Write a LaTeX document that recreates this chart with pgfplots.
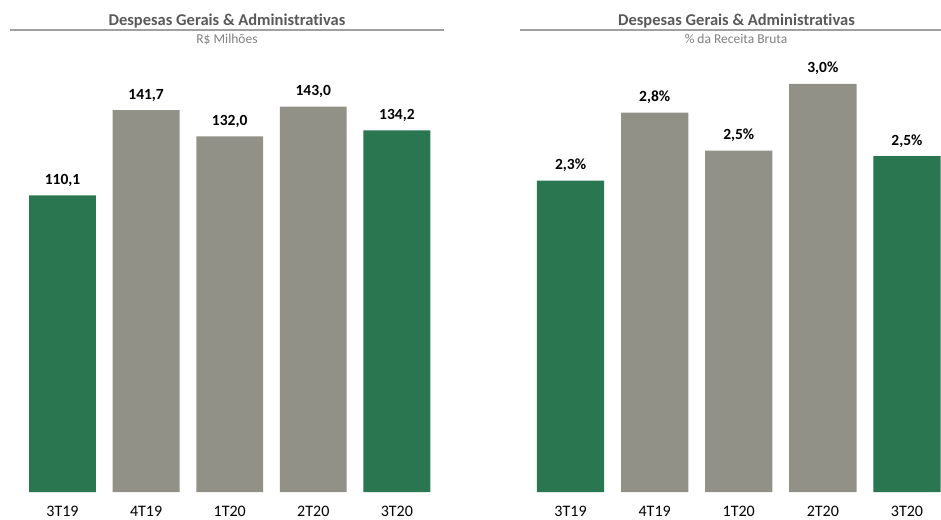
\documentclass[border=0pt]{standalone}
\usepackage{fontspec}
\setmainfont{Carlito}[Ligatures={NoCommon}]
\usepackage{pgfplots}
\pgfplotsset{compat=1.18}
\definecolor{verde}{HTML}{2A7650}
\definecolor{cinza}{HTML}{929188}
\definecolor{titulo}{HTML}{595959}
\definecolor{subt}{HTML}{808080}
\definecolor{linha}{HTML}{A0A0A0}

\pgfplotsset{
  painel/.style={
    ybar, bar shift=0pt, bar width=0.8,
    xmin=-0.5, xmax=4.5, ymin=0,
    axis line style={draw=none}, ytick=\empty, xtick={0,1,2,3,4},
    xticklabels={3T19,4T19,1T20,2T20,3T20},
    major tick length=0pt,
    xticklabel style={anchor=base, yshift=-24.5pt, text=black, font=\fontsize{16}{18}\selectfont},
    nodes near coords,
    every node near coord/.append style={anchor=base, yshift=11pt, inner sep=0pt, text=black, font=\bfseries\fontsize{15.5}{18}\selectfont},
    clip=false, anchor=south west,
    /pgf/number format/assume math mode=true,
    /pgf/number format/.cd, fixed, fixed zerofill, precision=1, use comma,
  }
}

\begin{document}
\begin{tikzpicture}
\useasboundingbox (0pt,0pt) rectangle (941pt,519pt);

% painel esquerdo: R$ milhoes
\begin{axis}[painel, at={(20.7pt,27pt)}, x=83.6pt, y=2.695pt, ymax=160]
  \addplot[fill=verde, draw=none] coordinates {(0,110.1) (4,134.2)};
  \addplot[fill=cinza, draw=none] coordinates {(1,141.7) (2,132.0) (3,143.0)};
\end{axis}
\node[anchor=base, text=titulo, font=\bfseries\fontsize{16.5}{18}\selectfont] at (227pt,493.5pt) {Despesas Gerais \& Administrativas};
\draw[linha, line width=1.5pt] (10pt,489pt) -- (444pt,489pt);
\node[anchor=base, text=subt, font=\fontsize{13.5}{15}\selectfont] at (227pt,475.5pt) {R\$ Milhões};

% painel direito: % da receita bruta
\begin{axis}[painel, at={(528.5pt,27pt)}, x=84.1pt, y=136pt, ymax=3.3,
  nodes near coords={\pgfmathprintnumber{\pgfplotspointmeta}\%}]
  \addplot[fill=verde, draw=none] coordinates {(0,2.29) (4,2.47)};
  \addplot[fill=cinza, draw=none] coordinates {(1,2.79) (2,2.51) (3,3.00)};
\end{axis}
\node[anchor=base, text=titulo, font=\bfseries\fontsize{16.5}{18}\selectfont] at (736.5pt,493.5pt) {Despesas Gerais \& Administrativas};
\draw[linha, line width=1.5pt] (520pt,489pt) -- (941pt,489pt);
\node[anchor=base, text=subt, font=\fontsize{13.5}{15}\selectfont] at (736pt,475.5pt) {\% da Receita Bruta};
\end{tikzpicture}
\end{document}
